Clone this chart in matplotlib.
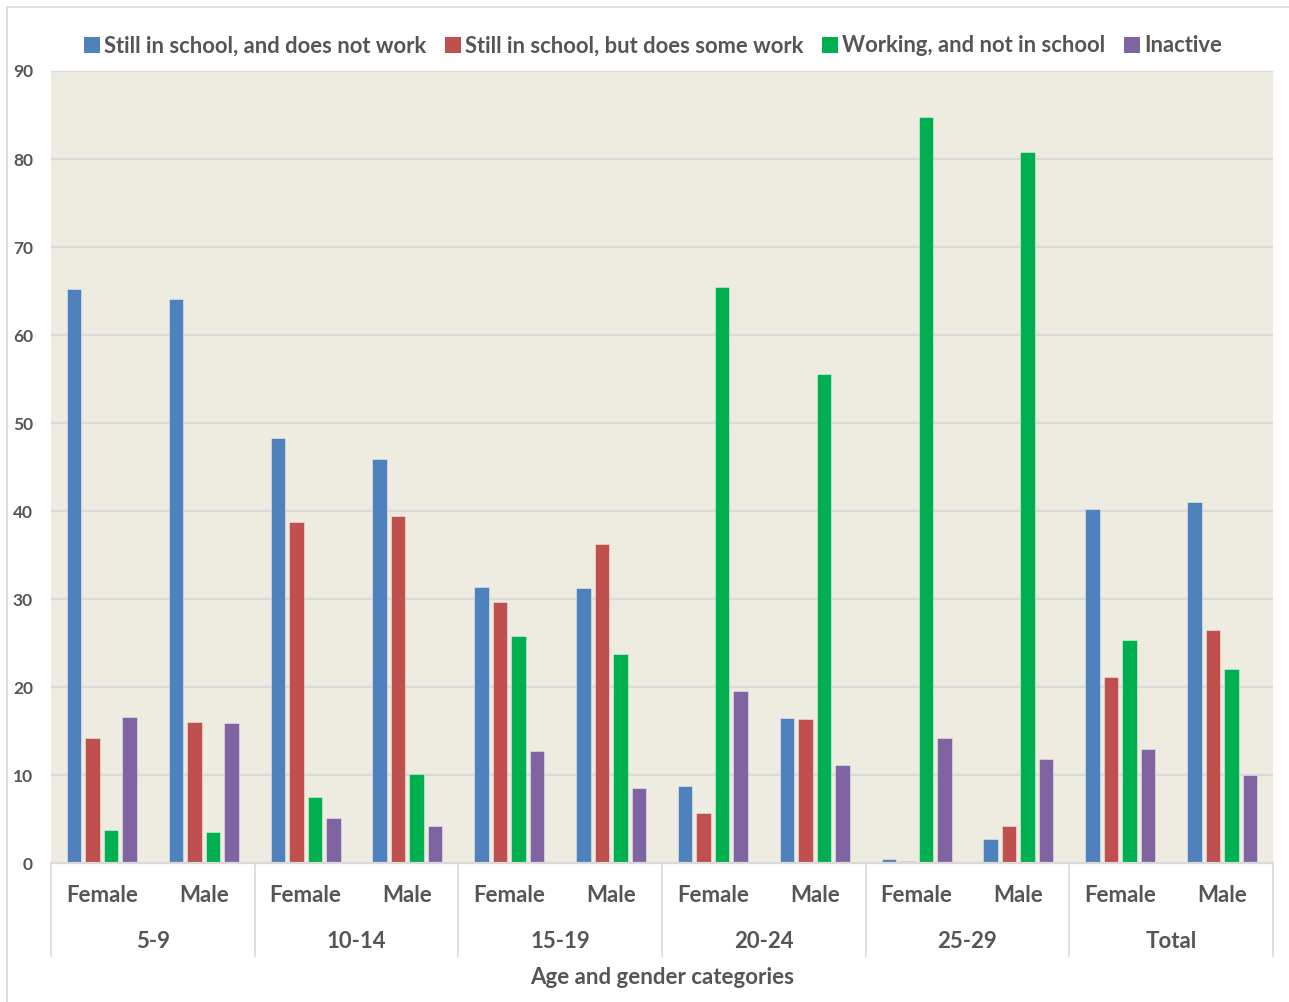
import matplotlib
matplotlib.use("Agg")
import matplotlib.pyplot as plt
from matplotlib.patches import Rectangle, Patch
import matplotlib.transforms as mtransforms
import numpy as np

plt.rcParams['font.family'] = ['Lato', 'DejaVu Sans']

age_groups = ["5-9", "10-14", "15-19", "20-24", "25-29", "Total"]
genders = ["Female", "Male"]

series_names = [
    "Still in school, and does not work",
    "Still in school, but does some work",
    "Working, and not in school",
    "Inactive",
]
school_only = [65.2, 64.1, 48.3, 45.9, 31.4, 31.2, 8.8, 16.5, 0.4, 2.7, 40.2, 41.0]
school_work = [14.2, 16.0, 38.7, 39.4, 29.7, 36.2, 5.7, 16.4, 0.2, 4.2, 21.1, 26.5]
work_only = [3.7, 3.5, 7.5, 10.1, 25.8, 23.7, 65.5, 55.6, 84.8, 80.8, 25.3, 22.0]
inactive = [16.6, 15.9, 5.1, 4.2, 12.7, 8.5, 19.6, 11.1, 14.2, 11.8, 12.9, 10.0]
y_ticks = [0, 10, 20, 30, 40, 50, 60, 70, 80, 90]

colors = ["#4F81BD", "#C0504D", "#00B050", "#8064A2"]
text_color = "#555555"
grid_color = "#D9D9D9"

W, H = 1289, 1002
fig = plt.figure(figsize=(W / 100, H / 100), dpi=100)
fig.patch.set_facecolor("white")

# outer chart border
fig.patches.append(Rectangle((7 / W, -0.01), 1.1, 1 - 7 / H + 0.01,
                             transform=fig.transFigure, fill=False,
                             edgecolor="#D9D9D9", linewidth=1.2))

left, right, top, bottom = 51, 1273, 71, 863
ax = fig.add_axes([left / W, 1 - bottom / H, (right - left) / W, (bottom - top) / H])
ax.set_facecolor("#EEEBE0")

n = len(school_only)
x = np.arange(n)
slot = 0.182
width = 0.142
all_series = [school_only, school_work, work_only, inactive]
for i, (vals, c, name) in enumerate(zip(all_series, colors, series_names)):
    ax.bar(x + (i - 1.5) * slot, vals, width=width, color=c, label=name,
           edgecolor=(1, 1, 1, 0.5), linewidth=0.6, zorder=3)

ax.set_xlim(-0.5, n - 0.5)
ax.set_ylim(0, 90)
ax.set_yticks(y_ticks)
ax.set_yticklabels([str(t) for t in y_ticks], fontsize=12.5, fontweight="bold",
                   color=text_color)
ax.tick_params(axis="y", length=0, pad=13)
ax.tick_params(axis="x", length=0, labelbottom=False)
for t in y_ticks[1:]:
    ax.axhline(t, color=grid_color, linewidth=1.6, zorder=1)
for s in ax.spines.values():
    s.set_visible(False)
ax.axhline(0, color=grid_color, linewidth=1.6, zorder=4, clip_on=False)

trans = mtransforms.blended_transform_factory(ax.transData, ax.transAxes)
ph = bottom - top
y_gender = -(896 - bottom) / ph
y_age = -(942 - bottom) / ph
y_title = -(978 - bottom) / ph
y_sep = -(956 - bottom) / ph

for i in range(n):
    ax.text(x[i], y_gender, genders[i % 2], transform=trans, ha="center",
            va="center", fontsize=16, fontweight="bold", color=text_color)
for g, name in enumerate(age_groups):
    ax.text(2 * g + 0.5, y_age, name, transform=trans, ha="center",
            va="center", fontsize=16, fontweight="bold", color=text_color)
for g in range(len(age_groups) + 1):
    ax.plot([2 * g - 0.5, 2 * g - 0.5], [0, y_sep], transform=trans,
            color=grid_color, linewidth=1.2, clip_on=False)

ax.text(0.5, y_title, "Age and gender categories", transform=ax.transAxes,
        ha="center", va="center", fontsize=16, fontweight="bold", color=text_color)

handles = [Patch(facecolor=c, edgecolor="none") for c in colors]
leg = fig.legend(handles, series_names, loc="center", bbox_to_anchor=(653 / W, 1 - 46 / H),
                 ncol=4, frameon=False, handlelength=0.72, handleheight=0.72,
                 handletextpad=0.2, columnspacing=0.85,
                 prop={"size": 15.8, "weight": "bold"})
for t in leg.get_texts():
    t.set_color(text_color)

fig.savefig("out.png", dpi=100, facecolor="white")
